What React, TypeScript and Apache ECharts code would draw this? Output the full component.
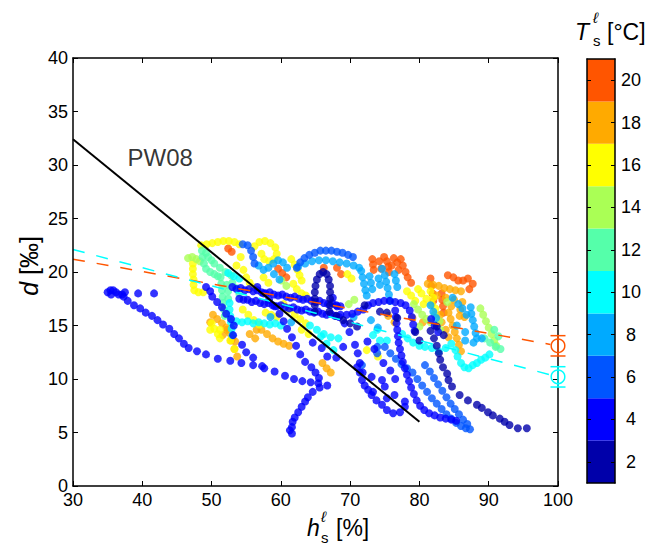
import { useEffect, useRef } from "react";
import * as echarts from "echarts";

type Pt = [number, number];

const FONT = "'Liberation Sans', Arial, Helvetica, sans-serif";

// Colour scale for T_s^l (°C): ten 2-degree bins from 1 to 21
const tempBinLabels = ["2", "4", "6", "8", "10", "12", "14", "16", "18", "20"];
const tempBinColors = [
  "#0000AA", "#0000FF", "#0055FF", "#00AAFF", "#00FFFF",
  "#55FFAA", "#AAFF55", "#FFFF00", "#FFAA00", "#FF5500",
];

// Lines
const pw08Line: Pt[] = [[30, 32.4], [80, 6.0]];
const pw08LabelPos: Pt = [37.8, 30.7];
const fitWarm: Pt[] = [[30, 21.2], [98.9, 13.23]];
const fitCold: Pt[] = [[30, 22.1], [98.9, 10.39]];

// Reference points at h = 100 %
const refH = [100, 100];
const refD = [13.1, 10.2];
const refErr = [0.95, 0.95];
const refTemp = [20, 10];

// ---- Observations, grouped by trajectory (h [%], d [‰]) ----
// T = 20
const warm20a: Pt[] = [[52.4, 22.2], [52.9, 21.9], [59.6, 20.3], [60.2, 19.9], [60.8, 19.5], [66.2, 20.4], [68.1, 20.4], [68.7, 19.8]];
const warm20b: Pt[] = [[73.2, 21.2], [73.3, 20.7], [73.4, 20.2], [74.9, 21.4], [75.3, 21.0], [75.5, 20.5], [75.6, 20.0], [76.3, 21.3], [76.8, 20.9], [77.3, 21.2], [77.6, 20.6], [78.3, 19.5], [78.8, 19.0], [74.2, 21.0], [76.0, 20.6], [74.5, 20.3], [77.0, 20.2], [78.0, 20.0]];
const warm20c: Pt[] = [[81.6, 19.4], [81.7, 18.7], [81.9, 18.0], [82.0, 17.3], [84.1, 19.7], [84.9, 19.5], [85.6, 19.2], [86.3, 19.2], [87.0, 19.4], [87.7, 18.9], [87.2, 18.4], [83.2, 18.0], [83.3, 17.4], [83.4, 16.8], [83.5, 16.2]];
// T = 18
const warm18a: Pt[] = [[50.2, 16.0], [50.8, 15.6], [51.5, 15.2], [52.1, 14.8], [52.6, 14.3], [53.0, 13.8], [53.4, 13.5], [49.8, 15.3], [51.6, 14.1], [52.2, 14.6], [52.8, 13.6], [53.3, 12.8], [53.7, 12.1], [55.5, 14.2], [56.3, 13.8], [56.5, 14.6]];
const warm18b: Pt[] = [[57.2, 14.6], [58.0, 14.2], [58.8, 13.8], [59.6, 13.5], [60.4, 13.3], [61.2, 13.1], [66.0, 11.5], [66.6, 11.0], [67.2, 10.6], [75.5, 15.9], [76.4, 15.3], [79.0, 15.7], [80.5, 15.3]];
const warm18c: Pt[] = [[81.2, 18.9], [82.0, 18.8], [82.8, 18.7], [83.6, 18.5], [84.4, 18.4], [85.2, 18.3], [86.0, 18.2], [84.2, 16.2], [84.5, 15.6], [84.8, 15.0], [85.1, 14.4], [85.4, 13.8], [85.7, 13.2], [86.0, 12.6], [83.0, 16.0], [85.8, 15.9]];
const warm18d: Pt[] = [[82.5, 17.8], [83.8, 17.6], [85.0, 17.4], [86.2, 17.2], [84.6, 16.8], [85.9, 16.5], [86.5, 15.8], [83.2, 15.3], [83.8, 14.6], [84.2, 13.9]];
// T = 16
const mid16a: Pt[] = [[47.3, 20.8], [47.3, 20.3], [47.3, 19.8], [47.4, 19.3], [47.4, 18.8], [47.5, 18.3], [48.1, 18.1], [48.8, 18.1]];
const mid16b: Pt[] = [[48.5, 22.5], [49.3, 22.6], [50.1, 22.7], [50.9, 22.8], [51.7, 22.9], [52.5, 22.9], [53.3, 22.8], [54.0, 22.6]];
const mid16c: Pt[] = [[56.2, 22.4], [56.9, 22.8], [57.7, 22.9], [58.5, 22.7], [59.2, 22.3], [59.4, 21.7], [59.0, 21.2], [58.3, 21.0], [57.6, 21.2], [57.2, 21.7], [61.5, 21.2], [62.0, 20.7], [62.4, 20.2], [62.7, 19.7], [63.0, 19.2]];
const mid16d: Pt[] = [[50.0, 15.2], [50.4, 14.7], [50.9, 14.2], [51.2, 13.8], [49.8, 14.6], [51.2, 14.6], [52.7, 13.6], [53.3, 12.8], [54.5, 16.5], [55.3, 16.0], [56.1, 15.5], [56.9, 15.1], [60.4, 17.0], [61.2, 16.5], [62.0, 16.0], [62.8, 15.6], [63.6, 15.2], [69.6, 19.8], [70.2, 19.4], [72.4, 12.7], [74.0, 12.1]];
const mid16e: Pt[] = [[78.8, 17.8], [79.4, 17.3], [80.3, 18.0], [81.0, 17.5], [81.8, 17.0], [82.3, 16.6], [81.6, 18.2], [82.0, 17.6], [79.8, 18.4], [80.6, 17.0], [78.2, 18.2]];
const mid16f: Pt[] = [[54.6, 20.2], [55.0, 19.5], [55.5, 19.0], [56.0, 18.6], [57.5, 19.5], [58.2, 19.0], [61.8, 18.9], [62.3, 18.4], [63.0, 18.0], [63.6, 17.8], [54.2, 21.4], [53.6, 20.6], [57.8, 16.2], [58.6, 16.0], [59.4, 15.8], [63.0, 14.6], [64.0, 14.2]];
// T = 14
const mid14: Pt[] = [[46.6, 21.3], [47.2, 21.4], [47.8, 21.2], [48.3, 21.0], [60.1, 19.2], [60.8, 18.7], [69.8, 17.0], [70.6, 17.4], [79.2, 17.0], [79.8, 16.5], [80.4, 16.0], [81.0, 15.6], [81.6, 15.3], [88.8, 16.6], [89.2, 16.0], [89.6, 15.4], [90.0, 14.8], [90.4, 14.2], [90.8, 13.6], [91.1, 13.1], [80.0, 14.9], [84.0, 17.2], [82.2, 16.0], [82.9, 15.4], [83.0, 14.6]];
// T = 12
const mid12: Pt[] = [[48.6, 22.0], [48.7, 21.4], [48.9, 20.8], [49.2, 20.3], [49.8, 20.0], [50.4, 19.8], [50.4, 20.8], [51.2, 20.4], [52.0, 20.0], [52.8, 19.7], [51.3, 19.5], [51.4, 18.9], [51.5, 18.3], [51.6, 17.7], [51.7, 17.1], [51.8, 16.5], [51.9, 15.9], [53.0, 19.0], [53.5, 18.5], [54.0, 18.0], [49.2, 21.8], [49.5, 21.4], [50.0, 21.1], [50.9, 19.6], [52.2, 18.8], [52.4, 18.2], [52.4, 17.5], [89.4, 13.8], [90.2, 13.4], [91.0, 13.0], [91.7, 12.8], [90.8, 14.6], [91.4, 14.0]];
// T = 10
const cool10a: Pt[] = [[52.4, 19.9], [53.2, 19.6], [54.0, 19.4], [52.6, 17.1], [52.6, 16.5], [52.7, 15.9], [52.8, 15.3], [52.9, 14.7], [53.0, 14.1], [53.6, 15.4], [54.4, 15.3], [55.2, 15.4], [56.0, 15.2], [56.8, 15.3], [57.6, 15.2], [58.4, 15.1], [59.2, 15.2], [60.0, 15.0]];
const cool10b: Pt[] = [[64.2, 15.0], [65.2, 14.6], [66.2, 14.2], [67.2, 13.9], [68.3, 13.8], [65.8, 14.0], [66.6, 13.3], [67.6, 12.7], [73.3, 14.1], [74.3, 13.6], [73.9, 14.6], [75.3, 13.6], [77.5, 14.2], [78.3, 13.8], [79.1, 13.4], [80.0, 13.1], [80.8, 13.0], [81.8, 12.9], [82.8, 12.6], [83.8, 12.9]];
const cool10c: Pt[] = [[84.6, 13.3], [85.2, 12.7], [85.5, 12.1], [86.0, 11.5], [86.5, 11.1], [87.1, 11.0], [87.7, 11.3], [88.3, 11.5], [88.9, 11.8], [89.5, 12.0], [90.1, 12.3]];
// T = 8
const cool8a: Pt[] = [[56.8, 20.6], [57.5, 20.2], [58.2, 20.4], [58.9, 20.8], [59.6, 21.1], [60.3, 20.9], [60.9, 20.4], [59.0, 19.8], [59.8, 19.3]];
const cool8b: Pt[] = [[62.5, 20.5], [63.5, 20.8], [64.5, 21.0], [65.5, 21.1], [66.5, 21.1], [67.5, 21.0], [68.5, 20.9], [69.5, 20.8], [70.5, 20.6], [71.3, 20.4], [71.6, 20.1], [71.8, 19.5], [72.0, 18.9], [72.2, 18.3], [72.4, 17.8]];
const cool8c: Pt[] = [[74.6, 20.3], [75.0, 19.7], [75.2, 19.1], [75.4, 18.5], [75.6, 17.9], [75.8, 17.3], [76.4, 19.8], [76.6, 19.2], [76.8, 18.6], [72.8, 19.6], [73.0, 19.0], [73.2, 18.4], [74.3, 18.8], [74.1, 19.4]];
const cool8d: Pt[] = [[81.6, 16.9], [82.0, 16.3], [82.4, 15.7], [87.4, 16.7], [87.5, 16.1], [87.7, 15.5], [87.9, 14.9], [88.1, 14.3], [88.3, 13.8], [86.6, 14.4], [89.0, 13.8], [58.5, 15.8], [61.5, 15.3], [70.5, 15.8], [73.0, 15.5], [74.0, 14.8]];
const cool8e: Pt[] = [[84.8, 17.6], [85.6, 17.0], [86.2, 16.6], [86.8, 16.0], [85.4, 15.0], [86.6, 13.6], [87.8, 13.4]];
// T = 6
const cold6a: Pt[] = [[54.5, 22.6], [55.2, 22.5], [55.7, 22.0], [56.0, 21.4], [56.2, 20.8]];
const cold6b: Pt[] = [[62.3, 20.4], [62.8, 20.9], [63.4, 21.3], [64.1, 21.6], [64.9, 21.8], [65.7, 22.0], [66.5, 22.0], [67.3, 22.0], [68.1, 21.9], [68.9, 21.8], [69.7, 21.6], [70.4, 21.4]];
const cold6c: Pt[] = [[75.0, 13.0], [75.8, 12.4], [76.6, 11.9], [77.4, 11.4], [78.2, 11.0], [79.0, 10.6], [79.7, 10.0], [80.4, 9.4], [81.1, 8.8], [81.8, 8.2], [82.5, 7.7], [83.2, 7.2], [83.9, 6.7], [84.6, 6.3], [85.3, 5.9], [86.0, 5.6], [86.7, 5.4], [87.3, 5.3]];
const cold6d: Pt[] = [[80.8, 11.3], [81.5, 10.7], [82.1, 10.1], [82.7, 9.5], [83.3, 8.9], [83.9, 8.3], [84.5, 7.7], [85.1, 7.2], [85.7, 6.7], [86.3, 6.2], [86.9, 5.8], [73.9, 13.0], [73.9, 12.4], [71.7, 11.3]];
// T = 4
const cold4Cluster: Pt[] = [[35.0, 18.1], [35.4, 18.3], [35.8, 18.3], [36.2, 18.1], [36.6, 17.9], [35.5, 17.9], [37.1, 17.9], [37.5, 18.1], [39.4, 18.0], [41.7, 18.0]];
const cold4TrailA: Pt[] = [[37.3, 17.7], [37.9, 17.3], [38.8, 16.9], [39.7, 16.6], [40.5, 16.2], [41.4, 15.9], [42.2, 15.5], [43.0, 15.1], [43.9, 14.7], [44.6, 14.2], [45.3, 13.8], [46.0, 13.3], [46.7, 12.9], [47.9, 12.6], [49.2, 12.3], [50.9, 11.9], [52.7, 11.7], [54.3, 11.5], [56.0, 11.3], [57.6, 11.0], [59.1, 10.7], [60.6, 10.3], [61.9, 10.0], [63.1, 9.8], [64.3, 9.7], [65.4, 9.6], [66.7, 9.4], [65.6, 9.2], [64.6, 8.8], [63.9, 8.3], [63.5, 7.9], [63.0, 7.4], [62.5, 6.9], [62.0, 6.4], [61.7, 6.0], [61.6, 5.5], [61.3, 5.2], [61.6, 4.9]];
const cold4TrailB: Pt[] = [[49.2, 18.6], [49.8, 18.2], [50.1, 17.7], [50.8, 17.2], [51.5, 16.7], [52.1, 16.1], [52.8, 15.6], [53.2, 15.0], [53.1, 14.1], [54.4, 13.2], [55.0, 12.5], [56.0, 12.0], [57.3, 11.2]];
const cold4TrailC: Pt[] = [[56.6, 18.6], [57.5, 18.0], [58.3, 17.4], [59.1, 16.8], [59.8, 16.1], [60.4, 15.4], [60.9, 14.7], [61.6, 13.9], [62.2, 13.1], [62.8, 12.3], [63.5, 11.6], [64.4, 11.1], [65.0, 10.6], [65.5, 10.1]];
const cold4TrailD: Pt[] = [[67.5, 17.6], [68.1, 16.8], [68.6, 16.0], [69.2, 15.2], [69.9, 14.4], [70.7, 13.2], [71.1, 12.4], [71.4, 11.5], [71.4, 10.6], [71.7, 9.9], [72.1, 9.4], [72.6, 9.0], [73.1, 8.5], [73.8, 8.0], [74.6, 7.6], [75.3, 7.1], [76.2, 6.8], [77.2, 6.9], [77.9, 7.4], [77.9, 7.9]];
const cold4Dots: Pt[] = [[64.6, 13.4], [65.9, 12.9], [66.7, 12.1], [71.0, 11.1], [71.8, 10.6], [73.1, 10.2], [74.6, 9.9], [75.3, 8.2], [73.3, 8.8], [69.0, 13.0], [68.0, 12.0], [81.7, 15.6], [82.2, 15.0], [82.7, 14.4], [72.5, 13.5], [73.5, 12.8], [74.8, 11.5], [75.8, 10.8], [76.5, 10.0], [75.0, 9.3], [76.4, 8.5]];
const cold4BandUpper: Pt[] = [[53.0, 18.6], [53.6, 18.4], [54.2, 18.5], [54.8, 18.3], [55.4, 18.4], [56.0, 18.2], [56.6, 18.3], [57.2, 18.1], [57.8, 18.0], [58.4, 18.1], [59.0, 17.9], [59.6, 17.8], [60.2, 17.9], [60.8, 17.7], [61.4, 17.6], [62.0, 17.7], [62.6, 17.5], [63.2, 17.4], [63.8, 17.5], [64.4, 17.3], [65.0, 17.2], [65.6, 17.3], [66.2, 17.1], [66.8, 17.0], [67.4, 17.1], [68.0, 16.9], [68.6, 16.8]];
const cold4BandLower: Pt[] = [[54.0, 17.5], [54.6, 17.4], [55.2, 17.4], [55.8, 17.2], [56.4, 17.3], [57.0, 17.1], [57.6, 17.0], [58.2, 17.1], [58.8, 16.9], [59.4, 16.8], [60.0, 16.9], [60.6, 16.7], [61.2, 16.6], [61.8, 16.7], [62.4, 16.5], [63.0, 16.4], [63.6, 16.5], [64.2, 16.3], [64.8, 16.2], [65.4, 16.3], [66.0, 16.1], [66.6, 16.0], [67.2, 16.1], [67.8, 15.9], [68.4, 15.8]];
const cold4Arch: Pt[] = [[69.5, 16.0], [70.3, 16.1], [71.1, 16.3], [71.9, 16.5], [72.6, 16.9], [73.3, 17.1], [74.1, 17.2], [74.9, 17.3], [75.7, 17.3], [76.5, 17.2], [77.3, 17.1], [78.0, 16.9], [78.6, 16.4], [78.9, 15.8], [79.1, 15.1], [79.3, 14.5]];
const cold4Down: Pt[] = [[76.5, 16.4], [76.6, 15.8], [76.7, 15.2], [76.8, 14.6], [76.9, 14.0], [77.0, 13.4], [77.2, 12.8], [77.4, 12.2], [77.6, 11.6], [77.9, 11.0], [78.2, 10.4], [78.5, 9.8], [78.8, 9.2], [79.2, 8.6], [79.6, 8.0], [80.1, 7.5], [80.7, 7.1], [81.4, 6.8], [82.2, 6.6], [83.0, 6.4], [83.8, 6.3], [84.6, 6.2], [85.3, 6.1]];
// T = 2
const cold2Hairpin: Pt[] = [[64.9, 16.3], [64.9, 16.9], [64.9, 17.5], [64.9, 18.1], [65.0, 18.7], [65.2, 19.3], [65.6, 19.8], [66.1, 20.0], [66.6, 19.8], [66.9, 19.3], [67.1, 18.7], [67.1, 18.1], [67.1, 17.5], [67.1, 16.9], [67.0, 16.3]];
const cold2Dots: Pt[] = [[72.1, 16.9], [75.3, 16.2], [76.8, 15.7], [79.4, 14.4], [80.0, 13.6], [74.3, 16.3], [68.0, 15.9], [69.0, 15.5], [70.0, 15.2], [71.0, 14.9]];
const cold2Trail: Pt[] = [[82.5, 14.9], [83.5, 14.1], [81.6, 14.5], [82.1, 13.8], [82.5, 13.1], [82.8, 12.4], [83.0, 11.8], [83.4, 11.1], [84.0, 10.5], [84.2, 9.9], [84.7, 9.3], [85.8, 8.5], [87.0, 8.0], [88.3, 7.6], [89.0, 7.3], [89.9, 6.9], [90.6, 6.6], [91.6, 6.3], [92.3, 6.0], [93.0, 5.7], [94.2, 5.4], [95.5, 5.4]];

const traces: { pts: Pt[]; t: number }[] = [
  { pts: warm20a, t: 20 }, { pts: warm20b, t: 20 }, { pts: warm20c, t: 20 },
  { pts: warm18a, t: 18 }, { pts: warm18b, t: 18 }, { pts: warm18c, t: 18 }, { pts: warm18d, t: 18 },
  { pts: mid16a, t: 16 }, { pts: mid16b, t: 16 }, { pts: mid16c, t: 16 }, { pts: mid16d, t: 16 }, { pts: mid16e, t: 16 }, { pts: mid16f, t: 16 },
  { pts: mid14, t: 14 },
  { pts: mid12, t: 12 },
  { pts: cool10a, t: 10 }, { pts: cool10b, t: 10 }, { pts: cool10c, t: 10 },
  { pts: cool8a, t: 8 }, { pts: cool8b, t: 8 }, { pts: cool8c, t: 8 }, { pts: cool8d, t: 8 }, { pts: cool8e, t: 8 },
  { pts: cold6a, t: 6 }, { pts: cold6b, t: 6 }, { pts: cold6c, t: 6 }, { pts: cold6d, t: 6 },
  { pts: cold4Cluster, t: 4 }, { pts: cold4TrailA, t: 4 }, { pts: cold4TrailB, t: 4 }, { pts: cold4TrailC, t: 4 },
  { pts: cold4TrailD, t: 4 }, { pts: cold4Dots, t: 4 }, { pts: cold4BandUpper, t: 4 }, { pts: cold4BandLower, t: 4 },
  { pts: cold4Arch, t: 4 }, { pts: cold4Down, t: 4 },
  { pts: cold2Hairpin, t: 2 }, { pts: cold2Dots, t: 2 }, { pts: cold2Trail, t: 2 },
];

function binIndex(t: number): number {
  return Math.max(0, Math.min(tempBinColors.length - 1, Math.floor((t - 1) / 2)));
}
function colorOf(t: number): string {
  return tempBinColors[binIndex(t)];
}

const axisLineStyle = { color: "#000", width: 1.5 };
const tickStyle = { color: "#000", width: 1 };
const labelStyle = { color: "#000", fontSize: 18, fontFamily: FONT };

export default function App() {
  const ref = useRef<HTMLDivElement | null>(null);
  useEffect(() => {
    if (!ref.current) return;
    const chart = echarts.init(ref.current, null, { renderer: "svg" });

    const scatterData = traces.flatMap((tr) =>
      tr.pts.map((p) => ({ value: [p[0], p[1], tr.t], itemStyle: { color: colorOf(tr.t) } }))
    );
    const refData = refH.map((h, i) => [h, refD[i], refErr[i], binIndex(refTemp[i])]);

    const mainX = {
      type: "value", min: 30, max: 100, interval: 10, gridIndex: 0,
      splitLine: { show: false }, z: 5,
      axisLine: { show: true, onZero: false, lineStyle: axisLineStyle },
      axisTick: { show: true, inside: true, length: 5, lineStyle: tickStyle },
    };
    const mainY = {
      type: "value", min: 0, max: 40, interval: 5, gridIndex: 0,
      splitLine: { show: false }, z: 5,
      axisLine: { show: true, onZero: false, lineStyle: axisLineStyle },
      axisTick: { show: true, inside: true, length: 5, lineStyle: tickStyle },
    };
    const cbX = {
      type: "value", min: 0, max: 1, gridIndex: 1, z: 10,
      splitLine: { show: false },
      axisLine: { show: true, onZero: false, lineStyle: axisLineStyle },
      axisTick: { show: false }, axisLabel: { show: false },
    };
    const cbY = {
      type: "category", data: tempBinLabels, gridIndex: 1, z: 10,
      axisLine: { show: true, onZero: false, lineStyle: axisLineStyle },
      axisTick: { show: true, inside: true, length: 4, alignWithLabel: true, lineStyle: tickStyle },
      splitLine: { show: false },
    };

    const titleText = (text: string, x: number, y: number, size: number, italic = false) => ({
      type: "text", x, y, silent: true,
      style: {
        text, fill: "#000", fontSize: size, fontFamily: FONT,
        fontStyle: italic ? "italic" : "normal", align: "left", verticalAlign: "middle",
      },
    });

    chart.setOption({
      animation: false,
      backgroundColor: "#fff",
      grid: [
        { left: 73, top: 58, width: 485, height: 428, outerBoundsMode: "none" },
        { left: 587, top: 59, width: 28, height: 424, outerBoundsMode: "none" },
      ],
      xAxis: [
        { ...mainX, position: "bottom", axisLabel: { ...labelStyle, margin: 5, showMinLabel: true, showMaxLabel: true } },
        { ...mainX, position: "top", axisLabel: { show: false } },
        { ...cbX, position: "bottom" },
        { ...cbX, position: "top" },
      ],
      yAxis: [
        { ...mainY, position: "left", axisLabel: { ...labelStyle, margin: 5, showMinLabel: true, showMaxLabel: true } },
        { ...mainY, position: "right", axisLabel: { show: false } },
        { ...cbY, position: "right", axisLabel: { ...labelStyle, margin: 16, align: "center" } },
        { ...cbY, position: "left", axisLabel: { show: false } },
      ],
      series: [
        {
          type: "scatter", xAxisIndex: 0, yAxisIndex: 0, symbol: "circle", symbolSize: 8,
          data: scatterData, silent: true, z: 2,
        },
        {
          type: "line", xAxisIndex: 0, yAxisIndex: 0, data: fitWarm, symbol: "none", silent: true, z: 3,
          lineStyle: { color: tempBinColors[9], width: 1.5, type: [12, 12] },
        },
        {
          type: "line", xAxisIndex: 0, yAxisIndex: 0, data: fitCold, symbol: "none", silent: true, z: 3,
          lineStyle: { color: tempBinColors[4], width: 1.5, type: [12, 12] },
        },
        {
          type: "line", xAxisIndex: 0, yAxisIndex: 0, data: pw08Line, symbol: "none", silent: true, z: 4,
          lineStyle: { color: "#000", width: 2 },
        },
        {
          type: "scatter", xAxisIndex: 0, yAxisIndex: 0, data: [pw08LabelPos], symbolSize: 1, silent: true, z: 4,
          itemStyle: { color: "rgba(0,0,0,0)" },
          label: { show: true, position: "right", distance: 0, formatter: "PW08", color: "#000", fontSize: 24, fontFamily: FONT },
        },
        {
          type: "custom", xAxisIndex: 0, yAxisIndex: 0, data: refData, clip: false, silent: true, z: 6,
          renderItem: (_params: any, api: any) => {
            const x = api.value(0), y = api.value(1), e = api.value(2), ci = api.value(3);
            const c = api.coord([x, y]);
            const top = api.coord([x, y + e]);
            const bot = api.coord([x, y - e]);
            const color = tempBinColors[ci];
            const st = { stroke: color, lineWidth: 1.5, fill: "none" };
            const cap = 7.5;
            return {
              type: "group",
              children: [
                { type: "line", shape: { x1: c[0], y1: top[1], x2: c[0], y2: bot[1] }, style: st },
                { type: "line", shape: { x1: c[0] - cap, y1: top[1], x2: c[0] + cap, y2: top[1] }, style: st },
                { type: "line", shape: { x1: c[0] - cap, y1: bot[1], x2: c[0] + cap, y2: bot[1] }, style: st },
                { type: "circle", shape: { cx: c[0], cy: c[1], r: 6.8 }, style: st },
              ],
            };
          },
        },
        {
          type: "bar", xAxisIndex: 2, yAxisIndex: 2, silent: true, z: 2,
          barWidth: "100%", barCategoryGap: "0%",
          data: tempBinColors.map((c) => ({ value: 1, itemStyle: { color: c } })),
        },
      ],
      graphic: [
        // x axis title: h_s^l [%]
        titleText("h", 307, 528, 23, true),
        titleText("\u2113", 321, 516, 15, true),
        titleText("s", 321, 537, 15),
        titleText("[%]", 336, 528, 23),
        // colour bar title: T_s^l [°C]
        titleText("T", 575, 32, 23, true),
        titleText("\u2113", 593, 17, 15, true),
        titleText("s", 593, 40, 15),
        titleText("[\u00B0C]", 607, 32, 23),
        // y axis title: d [‰]
        {
          type: "text", x: 29, y: 266, rotation: Math.PI / 2, silent: true,
          style: {
            text: "{i|d} [\u2030]", fill: "#000", fontSize: 25, fontFamily: FONT,
            align: "center", verticalAlign: "middle",
            rich: { i: { fontStyle: "italic", fontSize: 25, fontFamily: FONT, fill: "#000" } },
          },
        },
      ],
    });
    return () => chart.dispose();
  }, []);
  return <div ref={ref} style={{ position: "absolute", left: 0, top: 0, width: 649, height: 543 }} />;
}
